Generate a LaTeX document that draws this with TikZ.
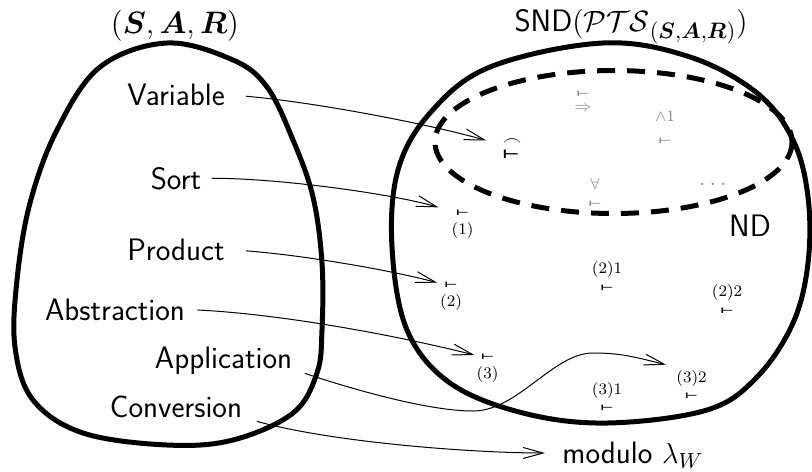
\documentclass[tikz,border=0pt]{standalone}
\usepackage{amsmath}
\usepackage{graphicx}
\usepackage{fontspec}
\newfontfamily\tsfont{DejaVu Sans}
\usetikzlibrary{arrows.meta}

% flattened turnstiles used inside the right-hand region
\newcommand{\tstile}{\scalebox{0.6}[0.32]{\fontsize{12}{12}\tsfont\bfseries ⊢}}
\newcommand{\btstile}{\scalebox{0.78}[0.5]{\fontsize{12}{12}\tsfont\bfseries ⊢}}
% math in the titles, brought up to the size of the sans text
\newcommand{\bigmath}[1]{\scalebox{1.076}{$#1$}}

\begin{document}
\begin{tikzpicture}[x=0.5pt,y=-0.5pt,
  big/.style={font=\fontsize{15.5}{18}\selectfont, inner sep=0pt},
  lbl/.style={big, font=\fontsize{15.5}{18}\selectfont\sffamily, anchor=base},
  blob/.style={line width=2.5pt, line join=round},
  dashline/.style={line width=2.5pt, dash pattern=on 9pt off 6pt},
  conn/.style={line width=0.5pt, -{Straight Barb[length=10pt,width=5.5pt]}},
  ts/.style={inner sep=0pt, font=\fontsize{10}{12}\selectfont},
  faint/.style={ts, text=black!45},
  ann/.style={inner sep=0.5pt, font=\fontsize{8}{9}\selectfont},
]
\useasboundingbox (0,0) rectangle (812,471);

% the two regions
\draw[blob] plot[smooth cycle, tension=0.6] coordinates {
  (167,43) (233,60) (267,87) (293,140) (313,197) (322,263) (322,330)
  (317,373) (293,413) (233,440) (167,445) (83,433) (33,400) (15,347)
  (17,280) (30,203) (57,130) (100,67)};
\draw[blob] plot[smooth cycle, tension=0.6] coordinates {
  (603,43) (690,57) (757,93) (793,140) (808,197) (808,263) (793,323)
  (757,377) (707,410) (607,423) (523,413) (450,383) (407,330) (392,247)
  (398,170) (430,113) (490,67)};
\draw[dashline] (613.5,142) ellipse [x radius=178.5, y radius=71.5];

% titles
\node[big, anchor=base] (tl) at (175,33)
  {\bigmath{(\boldsymbol{S},\boldsymbol{A},\boldsymbol{R})}};
\node[lbl] (tr) at (631,32)
  {SND\scalebox{1.02}{$(\mathcal{PTS}_{(\boldsymbol{S},\boldsymbol{A},\boldsymbol{R})})$}};
\node[lbl, anchor=center] (nd) at (750,226) {ND};

% rule names
\node[lbl] (var)  at (176,105) {Variable};
\node[lbl] (sort) at (176,189) {Sort};
\node[lbl] (prod) at (176,260) {Product};
\node[lbl] (abs)  at (115,320) {Abstraction};
\node[lbl] (app)  at (223.5,368) {Application};
\node[lbl] (conv) at (176,417) {Conversion};
\node[lbl, anchor=base west] (mod) at (562,463) {modulo $\lambda_W$};

% turnstiles
\node[ts] (v0) at (511,154) {\btstile};
\node[inner sep=0pt, anchor=south, font=\fontsize{9}{9}\selectfont] (v0f) at ([xshift=0.5pt,yshift=1.5pt]v0.north) {$\frown$};
\node[faint, label={[ann, text=black!45, label distance=3.5pt]below:$\Rightarrow$}] (g1) at (583,93.5) {\tstile};
\node[faint, label={[ann, text=black!45, label distance=7pt]above:$\wedge 1$}] (g2) at (665,140.5) {\tstile};
\node[faint, label={[ann, text=black!45, label distance=4.5pt]above:$\forall$}] (g3) at (595,203.5) {\tstile};
\node[faint, font=\fontsize{12}{14}\selectfont] (dots) at (713,184) {$\ldots$};

\node[ts, label={[ann, label distance=2.5pt]below:(1)}] (s1) at (462.5,212.5) {\tstile};
\node[ts, label={[ann, label distance=2.5pt]below:(2)}] (s2) at (451,284.5) {\tstile};
\node[ts, label={[ann, label distance=2.5pt]above:(2)1}] (s21) at (607,287.5) {\tstile};
\node[ts, label={[ann, label distance=2.5pt]above:(2)2}] (s22) at (727,310.5) {\tstile};
\node[ts, label={[ann, label distance=2.5pt]below:(3)}] (s3) at (487.5,356.5) {\tstile};
\node[ts, label={[ann, label distance=2.5pt]above:(3)1}] (s31) at (607,407.5) {\tstile};
\node[ts, label={[ann, name=s32l, label distance=2.5pt]above:(3)2}] (s32) at (691.5,395.5) {\tstile};

% bends of the Application connector
\coordinate (dip) at (473,411);
\coordinate (hump) at (593,353);

% connectors
\draw[conn, shorten <=10.5pt]
  (var.east) .. controls +(90,8) and +(-60,-17) .. ([xshift=-8pt,yshift=4.5pt]v0.north west);
\draw[conn, shorten <=5pt, shorten >=9pt]
  (sort.east) .. controls +(80,0) and +(-60,-18) .. (s1.west);
\draw[conn, shorten <=10.5pt, shorten >=3.5pt]
  (prod.east) .. controls +(70,5) and +(-60,-16) .. (s2.west);
\draw[conn, shorten <=6pt, shorten >=3.2pt]
  (abs.east) .. controls +(100,5) and +(-80,-20) .. (s3.west);
\draw[conn, shorten <=6.5pt]
  ([yshift=-4.5pt]app.east) .. controls +(60,20) and +(-45,0) .. (dip)
  .. controls +(45,0) and +(-40,0) .. (hump)
  .. controls +(30,0) and +(-30,-7) .. ([xshift=-4.5pt,yshift=2pt]s32l.north west);
\draw[conn, shorten <=7.5pt, shorten >=8.5pt]
  ([yshift=-5.5pt]conv.east) .. controls +(90,25) and +(-90,0) .. ([yshift=5pt]mod.base west);
\end{tikzpicture}
\end{document}
